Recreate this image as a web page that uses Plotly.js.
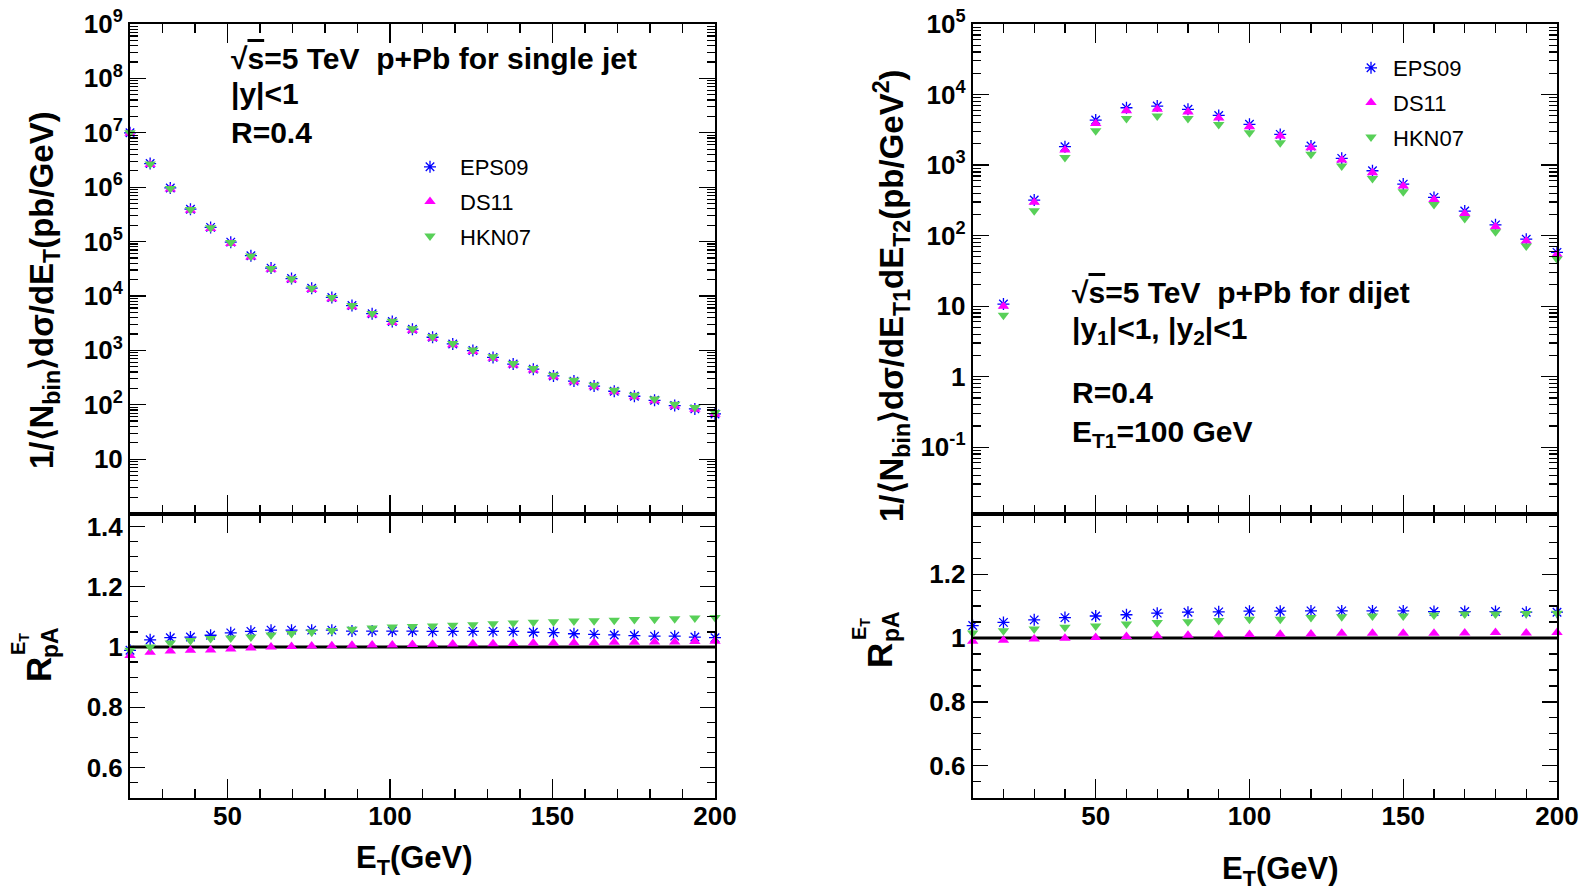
<!DOCTYPE html>
<html>
<head>
<meta charset="utf-8">
<script src="https://cdn.plot.ly/plotly-3.0.1.min.js"></script>
<style>
  html, body { margin: 0; padding: 0; background: #ffffff; }
  #chart { width: 1583px; height: 891px; }
</style>
</head>
<body>
<div id="chart"></div>
<script>
// ---------------- data ----------------
const seriesNames = ["EPS09", "DS11", "HKN07"];

// single jet, E_T (GeV)
const xSingle = [20, 26.2, 32.4, 38.6, 44.8, 51.0, 57.2, 63.4, 69.7, 75.9, 82.1, 88.3, 94.5, 100.7, 106.9,
                 113.1, 119.3, 125.5, 131.7, 137.9, 144.1, 150.3, 156.6, 162.8, 169.0, 175.2, 181.4, 187.6, 193.8, 200];
const singleEPS09 = [1.0e7, 2.72e6, 9.67e5, 3.94e5, 1.82e5, 9.76e4, 5.5e4, 3.25e4, 2.09e4, 1.39e4, 9.38e3, 6.65e3, 4.72e3, 3.4e3, 2.45e3,
                     1.74e3, 1.31e3, 990, 742, 560, 451, 338, 272, 220, 177, 143, 120.5, 96.6, 83.8, 67.6];
const singleDS11 = [9.83e6, 2.61e6, 9.26e5, 3.77e5, 1.73e5, 9.25e4, 5.21e4, 3.08e4, 1.99e4, 1.32e4, 8.92e3, 6.35e3, 4.52e3, 3.25e3, 2.35e3,
                    1.67e3, 1.26e3, 950, 713, 539, 435, 327, 264, 214, 173, 140, 118, 95, 82.7, 66.8];
const singleHKN07 = [1.0e7, 2.66e6, 9.5e5, 3.9e5, 1.8e5, 9.6e4, 5.4e4, 3.2e4, 2.07e4, 1.39e4, 9.4e3, 6.7e3, 4.77e3, 3.44e3, 2.49e3,
                     1.77e3, 1.34e3, 1.01e3, 760, 575, 465, 350, 283, 229, 185, 150, 127, 102, 89, 72];
const ratioSingleEPS09 = [0.989, 1.024, 1.031, 1.033, 1.039, 1.047, 1.052, 1.056, 1.056, 1.056, 1.056, 1.053, 1.053, 1.053, 1.053,
                          1.052, 1.052, 1.052, 1.052, 1.052, 1.049, 1.048, 1.044, 1.042, 1.040, 1.038, 1.036, 1.036, 1.033, 1.031];
const ratioSingleDS11 = [0.972, 0.983, 0.987, 0.989, 0.990, 0.993, 0.997, 1.000, 1.002, 1.003, 1.004, 1.006, 1.007, 1.007, 1.008,
                         1.009, 1.010, 1.011, 1.011, 1.012, 1.013, 1.013, 1.014, 1.014, 1.016, 1.016, 1.017, 1.017, 1.018, 1.019];
const ratioSingleHKN07 = [0.989, 1.000, 1.013, 1.022, 1.028, 1.030, 1.033, 1.040, 1.045, 1.050, 1.055, 1.059, 1.063, 1.066, 1.068,
                          1.070, 1.072, 1.074, 1.077, 1.080, 1.082, 1.084, 1.086, 1.087, 1.089, 1.091, 1.092, 1.094, 1.096, 1.098];

// dijet, E_T2 (GeV)
const xDijet = [20, 30, 40, 50, 60, 70, 80, 90, 100, 110, 120, 130, 140, 150, 160, 170, 180, 190, 200];
const dijetEPS09 = [10.7, 319, 1820, 4350, 6500, 6870, 6170, 5050, 3780, 2720, 1860, 1245, 830, 537, 348, 223, 142, 89, 57.8];
const dijetDS11 = [10.0, 296, 1630, 3900, 5890, 6170, 5650, 4650, 3490, 2580, 1760, 1178, 778, 504, 326, 206, 133, 83.6, 54.2];
const dijetHKN07 = [7.4, 225, 1285, 3070, 4590, 4950, 4590, 3750, 2880, 2075, 1420, 968, 647, 418, 277, 175, 113, 71, 46.5];
const xDijetRatio = [10, 20, 30, 40, 50, 60, 70, 80, 90, 100, 110, 120, 130, 140, 150, 160, 170, 180, 190, 200];
const ratioDijetEPS09 = [1.039, 1.049, 1.057, 1.064, 1.069, 1.073, 1.078, 1.081, 1.082, 1.084, 1.084, 1.085, 1.085, 1.085, 1.085, 1.083, 1.083, 1.083, 1.081, 1.081];
const ratioDijetDS11 = [0.990, 0.993, 0.997, 0.999, 1.002, 1.005, 1.007, 1.009, 1.010, 1.011, 1.012, 1.013, 1.015, 1.015, 1.015, 1.015, 1.016, 1.017, 1.016, 1.017];
const ratioDijetHKN07 = [1.016, 1.023, 1.028, 1.034, 1.038, 1.044, 1.049, 1.051, 1.055, 1.059, 1.059, 1.064, 1.067, 1.069, 1.069, 1.072, 1.075, 1.075, 1.077, 1.078];

// tick labels
const xTickVals = [50, 100, 150, 200];
const xTickText = ["50", "100", "150", "200"];
const yTickValsSingle = [10, 1e2, 1e3, 1e4, 1e5, 1e6, 1e7, 1e8, 1e9];
const yTickTextSingle = ["10", "10<sup>2</sup>", "10<sup>3</sup>", "10<sup>4</sup>", "10<sup>5</sup>", "10<sup>6</sup>", "10<sup>7</sup>", "10<sup>8</sup>", "10<sup>9</sup>"];
const yTickValsDijet = [0.1, 1, 10, 1e2, 1e3, 1e4, 1e5];
const yTickTextDijet = ["10<sup>-1</sup>", "1", "10", "10<sup>2</sup>", "10<sup>3</sup>", "10<sup>4</sup>", "10<sup>5</sup>"];

// ---------------- styles ----------------
const FONT = "Liberation Sans, Arial, Helvetica, sans-serif";
const markerStyles = {
  EPS09: {symbol: "asterisk-open", size: 10, color: "#0000ff", line: {color: "#0000ff", width: 1.3}},
  DS11: {symbol: "triangle-up", size: 10, color: "#ff00ff", line: {width: 0}},
  HKN07: {symbol: "triangle-down", size: 10, color: "#58d058", line: {width: 0}}
};

function tr(x, y, name, xa, ya, legend, show) {
  return {
    type: "scatter", mode: "markers", x: x, y: y, name: name,
    xaxis: xa, yaxis: ya, legend: legend, showlegend: show,
    legendgroup: legend + "-" + name,
    marker: markerStyles[name], cliponaxis: false, hoverinfo: "skip"
  };
}

const traces = [
  tr(xSingle, singleEPS09, "EPS09", "x", "y", "legend", true),
  tr(xSingle, singleDS11, "DS11", "x", "y", "legend", true),
  tr(xSingle, singleHKN07, "HKN07", "x", "y", "legend", true),
  tr(xSingle, ratioSingleEPS09, "EPS09", "x2", "y2", "legend", false),
  tr(xSingle, ratioSingleDS11, "DS11", "x2", "y2", "legend", false),
  tr(xSingle, ratioSingleHKN07, "HKN07", "x2", "y2", "legend", false),
  tr(xDijet, dijetEPS09, "EPS09", "x3", "y3", "legend2", true),
  tr(xDijet, dijetDS11, "DS11", "x3", "y3", "legend2", true),
  tr(xDijet, dijetHKN07, "HKN07", "x3", "y3", "legend2", true),
  tr(xDijetRatio, ratioDijetEPS09, "EPS09", "x4", "y4", "legend2", false),
  tr(xDijetRatio, ratioDijetDS11, "DS11", "x4", "y4", "legend2", false),
  tr(xDijetRatio, ratioDijetHKN07, "HKN07", "x4", "y4", "legend2", false)
];

const W = 1583, H = 891;
const px = v => v / W;
const py = v => 1 - v / H;

const tickFont = {family: FONT, size: 26, weight: "bold", color: "#000"};
const frame = {
  showline: true, linecolor: "#000", linewidth: 2, mirror: "allticks",
  ticks: "inside", tickcolor: "#000", tickwidth: 1.2, zeroline: false, showgrid: false,
  tickfont: tickFont, fixedrange: true
};

function xAxis(dom, range, anchor, labels) {
  return Object.assign({}, frame, {
    domain: dom, range: range, anchor: anchor,
    tickmode: "array", tickvals: xTickVals, ticktext: xTickText, ticklen: 19,
    showticklabels: labels, ticklabelstandoff: -6,
    minor: {ticks: "inside", tickmode: "linear", tick0: 0, dtick: 10, ticklen: 9, tickcolor: "#000", tickwidth: 1.2, showgrid: false}
  });
}
function yLog(dom, range, anchor, vals, text) {
  return Object.assign({}, frame, {
    domain: dom, type: "log", range: range, anchor: anchor,
    tickmode: "array", tickvals: vals, ticktext: text, ticklen: 16,
    minor: {ticks: "inside", dtick: "D1", ticklen: 8, tickcolor: "#000", tickwidth: 1.2, showgrid: false}
  });
}
function yLin(dom, range, anchor) {
  return Object.assign({}, frame, {
    domain: dom, range: range, anchor: anchor,
    tickmode: "linear", tick0: 0, dtick: 0.2, ticklen: 15,
    minor: {ticks: "inside", tickmode: "linear", tick0: 0, dtick: 0.05, ticklen: 8, tickcolor: "#000", tickwidth: 1.2, showgrid: false}
  });
}

const xL = [px(130), px(715)];
const xR = [px(972.7), px(1557)];
const yTop = [py(513.5), py(24)];
const yBot = [py(797.7), py(513.5)];

const bold = {family: FONT, size: 30, weight: "bold", color: "#000"};
const titleFont = {family: FONT, size: 31, weight: "bold", color: "#000"};
const yTitleFont = {family: FONT, size: 33, weight: "bold", color: "#000"};
const sq = "\u221A<span style=\"text-decoration:overline\">s</span>=5 TeV\u00a0\u00a0p+Pb for ";

function note(text, x, y, font) {
  return {text: text, xref: "paper", yref: "paper", x: px(x), y: py(y), xanchor: "left", yanchor: "middle",
          showarrow: false, font: font || bold};
}
function ctr(text, x, y, font, angle) {
  return {text: text, xref: "paper", yref: "paper", x: px(x), y: py(y), xanchor: "center", yanchor: "middle",
          showarrow: false, font: font, textangle: angle || 0};
}

const annotations = [
  note(sq + "single jet", 229, 58),
  note("|y|&lt;1", 229, 94),
  note("R=0.4", 229, 132),
  note(sq + "dijet", 1070, 292),
  note("|y<sub>1</sub>|&lt;1, |y<sub>2</sub>|&lt;1", 1070, 330),
  note("R=0.4", 1070, 392),
  note("E<sub>T1</sub>=100 GeV", 1070, 433),
  ctr("1/\u27E8N<sub>bin</sub>\u27E9d\u03C3/dE<sub>T</sub>(pb/GeV)", 44, 290, yTitleFont, -90),
  ctr("1/\u27E8N<sub>bin</sub>\u27E9d\u03C3/dE<sub>T1</sub>dE<sub>T2</sub>(pb/GeV<sup>2</sup>)", 891, 296, yTitleFont, -90),
  ctr("E<sub>T</sub>(GeV)", 414, 860, titleFont, 0),
  ctr("E<sub>T</sub>(GeV)", 1280, 871, titleFont, 0),
  ctr("R", 38, 670, {family: FONT, size: 35, weight: "bold", color: "#000"}, -90),
  ctr("pA", 50, 642, {family: FONT, size: 23, weight: "bold", color: "#000"}, -90),
  ctr("E<sub>T</sub>", 19, 644, {family: FONT, size: 20, weight: "bold", color: "#000"}, -90),
  ctr("R", 879, 656, {family: FONT, size: 35, weight: "bold", color: "#000"}, -90),
  ctr("pA", 891, 627, {family: FONT, size: 23, weight: "bold", color: "#000"}, -90),
  ctr("E<sub>T</sub>", 860, 629, {family: FONT, size: 20, weight: "bold", color: "#000"}, -90)
];

const shapes = [
  {type: "line", xref: "x2", yref: "y2", x0: 20, x1: 200, y0: 1, y1: 1, line: {color: "#000", width: 3}, layer: "below"},
  {type: "line", xref: "x4", yref: "y4", x0: 10, x1: 200, y0: 1, y1: 1, line: {color: "#000", width: 3}, layer: "below"}
];

const legendFont = {family: FONT, size: 22, color: "#000"};
const layout = {
  width: W, height: H,
  margin: {l: 0, r: 0, t: 0, b: 0},
  paper_bgcolor: "#fff", plot_bgcolor: "#fff",
  font: {family: FONT, color: "#000"},
  xaxis: xAxis(xL, [20, 200], "y", false),
  yaxis: yLog(yTop, [0, 9], "x", yTickValsSingle, yTickTextSingle),
  xaxis2: xAxis(xL, [20, 200], "y2", true),
  yaxis2: yLin(yBot, [0.5, 1.443], "x2"),
  xaxis3: xAxis(xR, [10, 200], "y3", false),
  yaxis3: yLog(yTop, [-1.94, 5], "x3", yTickValsDijet, yTickTextDijet),
  xaxis4: xAxis(xR, [10, 200], "y4", true),
  yaxis4: yLin(yBot, [0.5, 1.39], "x4"),
  legend: {x: px(400), y: py(146), xanchor: "left", yanchor: "top", bgcolor: "rgba(0,0,0,0)",
           font: legendFont, traceorder: "grouped", tracegroupgap: 3, itemwidth: 50, itemclick: false},
  legend2: {x: px(1349), y: py(47), xanchor: "left", yanchor: "top", bgcolor: "rgba(0,0,0,0)",
            font: legendFont, traceorder: "grouped", tracegroupgap: 3, itemwidth: 34, itemclick: false},
  annotations: annotations,
  shapes: shapes,
  showlegend: true
};

Plotly.newPlot("chart", traces, layout, {staticPlot: true, displayModeBar: false});
</script>
</body>
</html>
